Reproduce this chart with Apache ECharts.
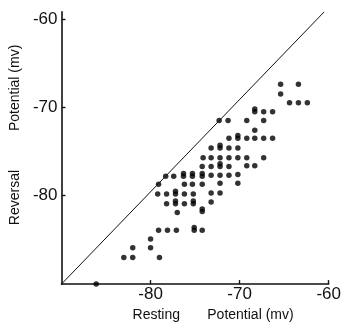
<!DOCTYPE html>
<html>
<head>
<meta charset="utf-8">
<script src="https://cdn.jsdelivr.net/npm/echarts@6/dist/echarts.min.js"></script>
<style>
    html, body { margin: 0; padding: 0; background: #fff; }
    #chart { width: 344px; height: 327px; }
</style>
</head>
<body>
<div id="chart"></div>
<script>
    // resting potential (x) and reversal potential (y), mV
    var restingPotential = [
        -65.4, -63.4, -65.4, -64.4, -63.4, -62.4,
        -68.3, -68.3, -67.3, -66.3,
        -72.3, -71.3, -69.2, -67.3, -68.3,
        -71.2, -70.2, -70.2, -69.2, -68.3, -67.3, -66.3,
        -73.2, -72.2, -72.2, -71.2, -70.2,
        -74.1, -73.2, -72.2, -71.2, -70.2, -69.2, -67.3,
        -74.2, -73.2, -72.2, -72.2, -71.2, -69.2, -68.3,
        -78.3, -77.4, -76.3, -76.3, -75.3, -75.3, -74.2, -74.2, -73.2, -72.2, -71.2, -70.2,
        -79.1, -76.2, -75.3, -74.2, -72.2, -70.2,
        -79.2, -78.2, -77.2, -77.2, -76.2, -75.2, -73.2, -72.2,
        -78.2, -77.2, -77.2, -76.2, -75.2, -75.2, -73.2,
        -77.0, -74.2, -74.2,
        -79.1, -78.1, -77.1, -75.1, -75.1, -74.2,
        -80.0, -82.0, -80.0,
        -83.0, -82.0, -79.0,
        -86.1
    ];
    var reversalPotential = [
        -67.4, -67.4, -68.5, -69.5, -69.5, -69.5,
        -70.5, -70.2, -70.5, -70.5,
        -71.5, -71.5, -71.5, -71.5, -72.6,
        -73.5, -73.5, -73.2, -73.5, -73.5, -73.5, -73.5,
        -74.6, -74.6, -74.3, -74.6, -74.6,
        -75.7, -75.7, -75.7, -75.7, -75.7, -75.7, -75.7,
        -76.7, -76.7, -76.7, -76.4, -76.7, -76.6, -76.6,
        -77.8, -77.8, -77.8, -77.5, -77.8, -77.5, -77.8, -77.5, -77.7, -77.7, -77.7, -77.6,
        -78.7, -78.7, -78.7, -78.7, -78.6, -78.6,
        -79.8, -79.8, -79.8, -79.5, -79.8, -79.8, -79.7, -79.7,
        -80.9, -80.9, -80.6, -80.9, -80.9, -80.6, -80.7,
        -81.9, -81.8, -81.5,
        -83.9, -83.9, -83.9, -83.9, -83.6, -83.9,
        -84.9, -85.9, -85.9,
        -87.0, -87.0, -87.0,
        -90.0
    ];

    // drawn reference line (near the identity line)
    var lineX = [-90, -60.5];
    var lineY = [-90, -59.2];

    var xRange = [-90, -60];
    var yRange = [-90, -59.2];
    var tickStep = 10;

    var points = restingPotential.map(function (x, i) {
        return [x, reversalPotential[i]];
    });
    var refLine = lineX.map(function (x, i) {
        return [x, lineY[i]];
    });

    var font = 'Liberation Sans, Arial, sans-serif';

    function valueAxis(range, extra) {
        var axis = {
            type: 'value',
            min: range[0],
            max: range[1],
            interval: tickStep,
            splitLine: {show: false},
            axisLine: {show: true, onZero: false, lineStyle: {color: '#111', width: 1.6}},
            axisTick: {show: true, inside: true, length: 4, lineStyle: {color: '#111', width: 1.4}},
            axisLabel: {
                showMinLabel: false,
                color: '#111',
                fontFamily: font,
                fontSize: 17
            },
            nameLocation: 'middle',
            nameTextStyle: {color: '#111', fontFamily: font, fontSize: 14}
        };
        for (var k in extra) {
            if (k === 'axisLabel' || k === 'nameTextStyle') {
                for (var j in extra[k]) axis[k][j] = extra[k][j];
            } else {
                axis[k] = extra[k];
            }
        }
        return axis;
    }

    var chart = echarts.init(document.getElementById('chart'));

    chart.setOption({
        animation: false,
        backgroundColor: '#fff',
        grid: {left: 61, right: 10.3, top: 11.8, bottom: 38},
        xAxis: valueAxis(xRange, {
            name: 'Resting       Potential (mv)',
            nameGap: 21,
            axisLabel: {margin: 2},
            nameTextStyle: {padding: [0, 0, 0, 36]}
        }),
        yAxis: valueAxis(yRange, {
            name: 'Reversal          Potential (mv)',
            nameGap: 27,
            axisLabel: {margin: 4},
            nameTextStyle: {padding: [0, 0, 0, 26]}
        }),
        series: [
            {
                type: 'line',
                data: refLine,
                symbol: 'none',
                silent: true,
                lineStyle: {color: '#111', width: 1}
            },
            {
                type: 'scatter',
                data: points,
                symbol: 'circle',
                symbolSize: 5.5,
                itemStyle: {color: '#000'}
            }
        ]
    });
</script>
</body>
</html>
